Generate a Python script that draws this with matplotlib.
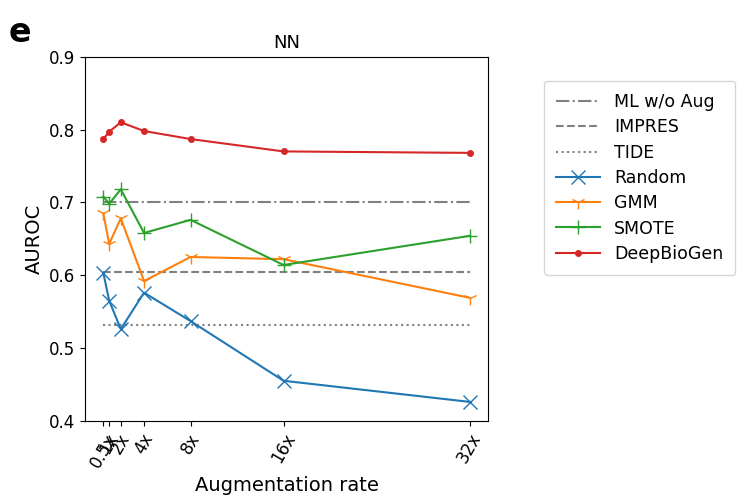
import numpy as np
import matplotlib.pyplot as plt

rates = [0.5, 1, 2, 4, 8, 16, 32]
rate_labels = ["0.5x", "1x", "2x", "4x", "8x", "16x", "32x"]

ml_wo_aug = 0.700
impres = 0.605
tide = 0.532

random_aug = [0.603, 0.565, 0.526, 0.576, 0.537, 0.455, 0.426]
gmm = [0.685, 0.643, 0.678, 0.592, 0.625, 0.622, 0.569]
smote = [0.708, 0.698, 0.718, 0.658, 0.676, 0.614, 0.654]
deepbiogen = [0.787, 0.797, 0.810, 0.798, 0.787, 0.770, 0.768]

fig = plt.figure(figsize=(7.46, 4.98), dpi=100)
ax = fig.add_axes([0.114, 0.155, 0.54, 0.731])

ax.plot([rates[0], rates[-1]], [ml_wo_aug] * 2, color="gray", linestyle="-.", label="ML w/o Aug")
ax.plot([rates[0], rates[-1]], [impres] * 2, color="gray", linestyle="--", label="IMPRES")
ax.plot([rates[0], rates[-1]], [tide] * 2, color="gray", linestyle=":", label="TIDE")
ax.plot(rates, random_aug, color="tab:blue", marker="x", markersize=10, label="Random")
ax.plot(rates, gmm, color="tab:orange", marker="1", markersize=10, label="GMM")
ax.plot(rates, smote, color="tab:green", marker="+", markersize=10, label="SMOTE")
ax.plot(rates, deepbiogen, color="tab:red", marker=".", markersize=8, label="DeepBioGen")

ax.set_ylim(0.4, 0.9)
ax.set_yticks([0.4, 0.5, 0.6, 0.7, 0.8, 0.9])
ax.set_xticks(rates)
ax.set_xticklabels(rate_labels, rotation=60, fontsize=12)
ax.tick_params(axis="y", labelsize=12)
ax.set_xlabel("Augmentation rate", fontsize=14)
ax.set_ylabel("AUROC", fontsize=14)
ax.set_title("NN", fontsize=13)

fig.legend(loc="upper left", bbox_to_anchor=(0.718, 0.855), fontsize=12.5,
           borderpad=0.7, labelspacing=0.42, handlelength=2.5)
fig.text(0.012, 0.915, "e", fontsize=24, fontweight="bold")

fig.savefig("out.png", dpi=100)
